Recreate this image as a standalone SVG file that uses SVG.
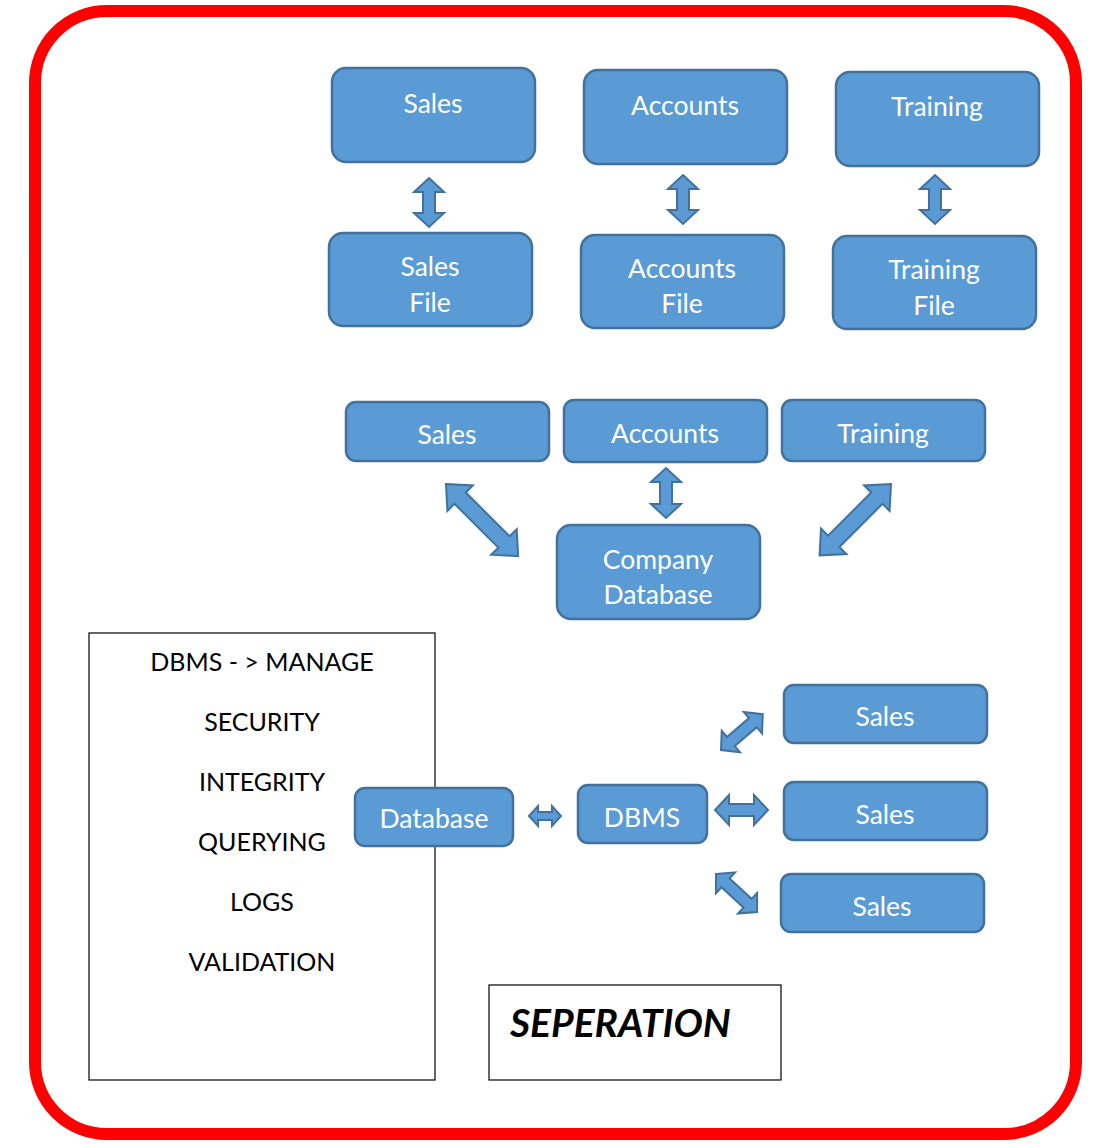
<svg xmlns="http://www.w3.org/2000/svg" width="1094" height="1146" viewBox="0 0 1094 1146">
<style>
.n{fill:#5B9BD5;stroke:#41719C;stroke-width:2.5}
.t{fill:#fff;font-family:Lato,"Open Sans",sans-serif;font-size:26.5px;text-anchor:middle}
.a{fill:#5B9BD5;stroke:#41719C;stroke-width:2;stroke-linejoin:miter}
.k{font-family:Lato,"Open Sans",sans-serif;font-size:25px;text-anchor:middle;fill:#000}
</style>
<rect x="35" y="11" width="1041" height="1123" rx="72" fill="#fff" stroke="#FF0000" stroke-width="12"/>
<g id="textbox-left"><rect x="89" y="633" width="346" height="447" fill="#fff" stroke="#000" stroke-width="1.2"/>
<text class="k" x="262" y="671">DBMS - &gt; MANAGE</text>
<text class="k" x="262" y="731">SECURITY</text>
<text class="k" x="262" y="791">INTEGRITY</text>
<text class="k" x="262" y="851">QUERYING</text>
<text class="k" x="262" y="911">LOGS</text>
<text class="k" x="262" y="971">VALIDATION</text></g>
<g id="seperation"><rect x="489" y="985" width="292" height="95" fill="#fff" stroke="#000" stroke-width="1.2"/>
<text x="510" y="1037" font-family="Lato,'Open Sans',sans-serif" font-size="39" font-weight="bold" font-style="italic">SEPERATION</text></g>
<g id="connectors">
<path class="a" transform="translate(429,178) rotate(90)" d="M0,0 L14,-15 L14,-6 L35,-6 L35,-15 L49,0 L35,15 L35,6 L14,6 L14,15 Z"/>
<path class="a" transform="translate(683,175) rotate(90)" d="M0,0 L14,-15 L14,-6 L35,-6 L35,-15 L49,0 L35,15 L35,6 L14,6 L14,15 Z"/>
<path class="a" transform="translate(935,175) rotate(90)" d="M0,0 L14,-15 L14,-6 L35,-6 L35,-15 L49,0 L35,15 L35,6 L14,6 L14,15 Z"/>
<path class="a" transform="translate(666,468) rotate(90)" d="M0,0 L14,-15 L14,-6 L36,-6 L36,-15 L50,0 L36,15 L36,6 L14,6 L14,15 Z"/>
<path class="a" transform="translate(446,484) rotate(45)" d="M0,0 L20,-18 L20,-8 L82,-8 L82,-18 L102,0 L82,18 L82,8 L20,8 L20,18 Z"/>
<path class="a" transform="translate(891,484) rotate(135)" d="M0,0 L20,-18 L20,-8 L81,-8 L81,-18 L101,0 L81,18 L81,8 L20,8 L20,18 Z"/>
<path class="a" transform="translate(529,816)" d="M0,0 L9,-10 L9,-4 L23,-4 L23,-10 L32,0 L23,10 L23,4 L9,4 L9,10 Z"/>
<path class="a" transform="translate(715,810)" d="M0,0 L14,-15 L14,-6 L39,-6 L39,-15 L53,0 L39,15 L39,6 L14,6 L14,15 Z"/>
<path class="a" transform="translate(721,750) rotate(-40.6)" d="M0,0 L13,-14 L13,-6 L42,-6 L42,-14 L55,0 L42,14 L42,6 L13,6 L13,14 Z"/>
<path class="a" transform="translate(716,874) rotate(42.8)" d="M0,0 L13,-14 L13,-6 L43,-6 L43,-14 L56,0 L43,14 L43,6 L13,6 L13,14 Z"/>
</g>
<g id="sales-top"><rect class="n" x="332" y="68" width="203" height="94" rx="14"/><text class="t" x="433" y="113">Sales</text></g>
<g id="accounts-top"><rect class="n" x="584" y="70" width="203" height="94" rx="14"/><text class="t" x="685" y="115">Accounts</text></g>
<g id="training-top"><rect class="n" x="836" y="72" width="203" height="94" rx="14"/><text class="t" x="937" y="116">Training</text></g>
<g id="sales-file"><rect class="n" x="329" y="233" width="203" height="93" rx="14"/><text class="t" x="430" y="276">Sales</text><text class="t" x="430" y="312">File</text></g>
<g id="accounts-file"><rect class="n" x="581" y="235" width="203" height="93" rx="14"/><text class="t" x="682" y="278">Accounts</text><text class="t" x="682" y="313">File</text></g>
<g id="training-file"><rect class="n" x="833" y="236" width="203" height="93" rx="14"/><text class="t" x="934" y="279">Training</text><text class="t" x="934" y="315">File</text></g>
<g id="sales-mid"><rect class="n" x="346" y="402" width="203" height="59" rx="10"/><text class="t" x="447" y="444">Sales</text></g>
<g id="accounts-mid"><rect class="n" x="564" y="400" width="203" height="62" rx="10"/><text class="t" x="665" y="443">Accounts</text></g>
<g id="training-mid"><rect class="n" x="782" y="400" width="203" height="61" rx="10"/><text class="t" x="883" y="443">Training</text></g>
<g id="company-db"><rect class="n" x="557" y="525" width="203" height="94" rx="14"/><text class="t" x="658" y="569">Company</text><text class="t" x="658" y="604">Database</text></g>
<g id="database"><rect class="n" x="355" y="788" width="158" height="58" rx="10"/><text class="t" x="434" y="828">Database</text></g>
<g id="dbms"><rect class="n" x="578" y="785" width="129" height="58" rx="10"/><text class="t" x="642" y="827">DBMS</text></g>
<g id="sales-b1"><rect class="n" x="784" y="685" width="203" height="58" rx="10"/><text class="t" x="885" y="726">Sales</text></g>
<g id="sales-b2"><rect class="n" x="784" y="782" width="203" height="58" rx="10"/><text class="t" x="885" y="824">Sales</text></g>
<g id="sales-b3"><rect class="n" x="781" y="874" width="203" height="58" rx="10"/><text class="t" x="882" y="916">Sales</text></g>
</svg>
